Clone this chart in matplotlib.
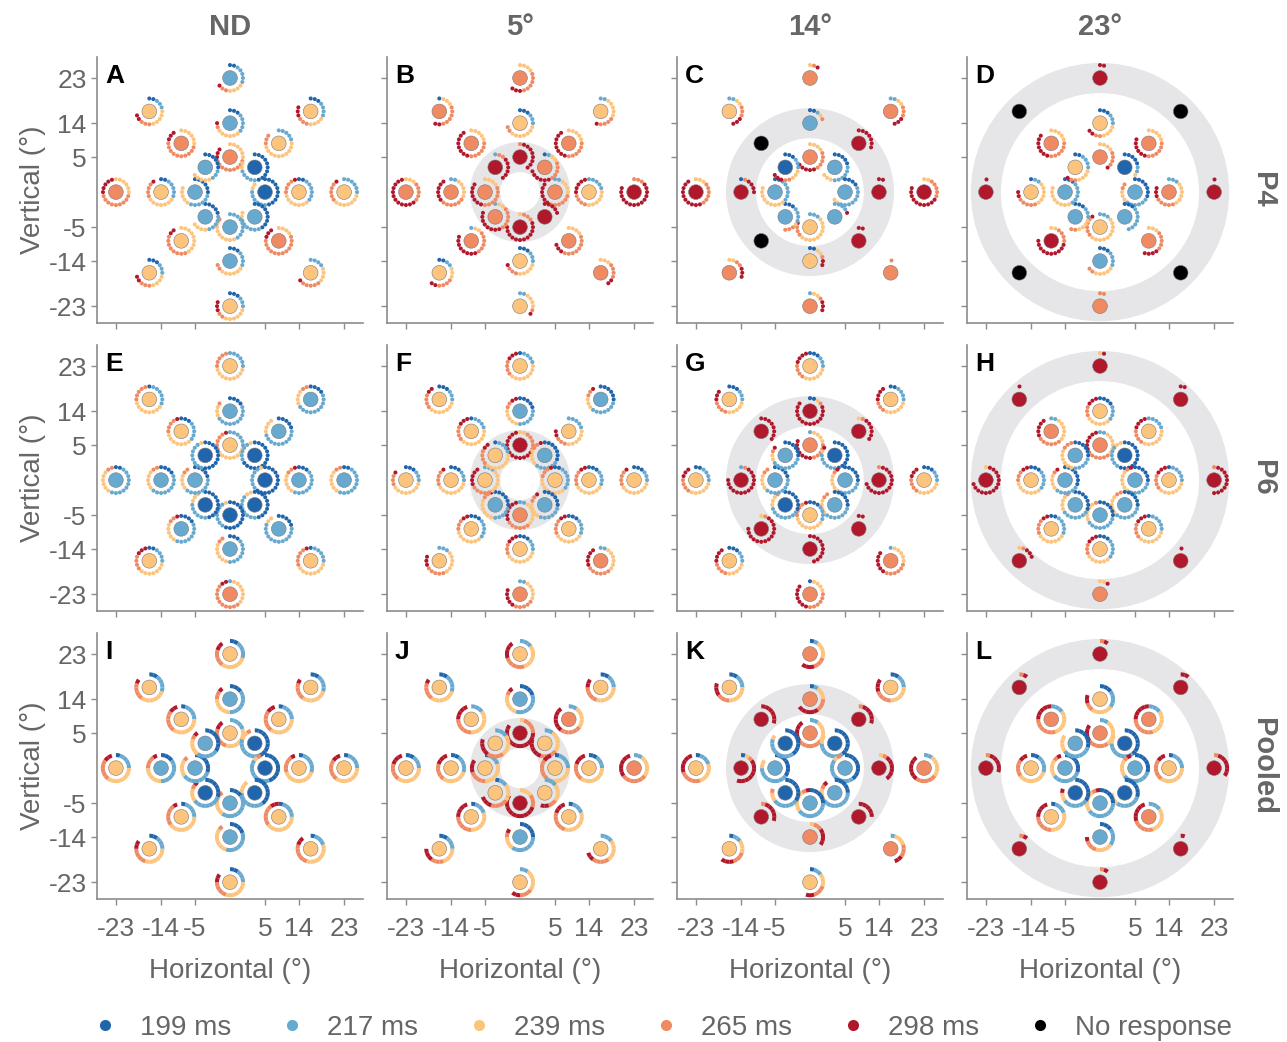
import numpy as np
import matplotlib.pyplot as plt
from matplotlib.patches import Wedge
from matplotlib.lines import Line2D

plt.rcParams['font.family'] = ['Liberation Sans', 'DejaVu Sans']

# latency categories (index 5 = no response)
latency_labels = ['199 ms', '217 ms', '239 ms', '265 ms', '298 ms', 'No response']
colors = ['#2166ac', '#67a9cf', '#fdc47d', '#ef8a62', '#b2182b', '#000000']

ecc_values = [5, 14, 23]
col_titles = ['ND', '5°', '14°', '23°']
row_titles = ['P4', 'P6', 'Pooled']
letters = 'ABCDEFGHIJKL'
# stimulated ring per column (None = no distractor)
annulus_ring = [None, 0, 1, 2]

# each panel: 24 locations, ring 5 / 14 / 23 deg, angles N, NE, E, SE, S, SW, W, NW
# center = latency category of the disc, counts = trials per category (clockwise from top)
A_center = [3, 0, 0, 1, 1, 1, 1, 1,  1, 2, 2, 3, 1, 2, 2, 3,  1, 2, 2, 2, 2, 2, 3, 2]
A_counts = [[0, 0, 6, 9, 3], [10, 5, 2, 0, 0], [10, 6, 2, 0, 0], [9, 6, 2, 0, 0],
            [0, 9, 8, 1, 0], [5, 5, 4, 0, 0], [6, 6, 5, 0, 0], [6, 3, 5, 0, 0],
            [3, 5, 6, 1, 1], [0, 5, 10, 3, 0], [2, 6, 7, 4, 1], [0, 0, 4, 12, 3],
            [3, 4, 6, 2, 0], [0, 0, 9, 8, 2], [2, 5, 7, 4, 1], [0, 0, 6, 10, 3],
            [2, 5, 4, 2, 1], [3, 4, 4, 3, 3], [0, 6, 7, 5, 1], [0, 4, 4, 5, 1],
            [3, 3, 6, 2, 3], [3, 3, 4, 3, 2], [0, 0, 6, 9, 5], [2, 3, 5, 3, 2]]

B_center = [4, 3, 3, 4, 4, 3, 3, 4,  2, 3, 2, 3, 2, 3, 3, 3,  3, 2, 4, 3, 2, 2, 3, 3]
B_counts = [[0, 0, 0, 1, 8], [1, 1, 2, 5, 6], [0, 2, 4, 6, 6], [0, 0, 0, 0, 5],
            [0, 0, 1, 3, 12], [0, 1, 2, 6, 8], [0, 0, 4, 7, 7], [0, 1, 0, 2, 6],
            [3, 3, 7, 2, 0], [0, 0, 5, 6, 8], [0, 5, 6, 4, 5], [0, 0, 4, 8, 3],
            [3, 3, 5, 3, 1], [0, 1, 2, 6, 8], [0, 2, 5, 6, 6], [0, 0, 5, 6, 8],
            [0, 0, 4, 6, 3], [0, 2, 5, 4, 1], [0, 0, 0, 3, 14], [0, 0, 3, 4, 2],
            [0, 2, 4, 1, 1], [2, 2, 3, 4, 2], [0, 0, 3, 5, 12], [1, 0, 3, 6, 2]]

C_center = [3, 1, 1, 1, 2, 1, 1, 0,  1, 4, 4, 4, 2, 5, 4, 5,  3, 3, 4, 3, 3, 3, 4, 2]
C_counts = [[0, 0, 4, 5, 5], [5, 6, 3, 0, 0], [4, 8, 2, 0, 0], [0, 4, 0, 0, 1],
            [0, 3, 10, 3, 1], [3, 4, 1, 3, 0], [2, 6, 9, 0, 0], [3, 3, 3, 2, 3],
            [2, 1, 1, 1, 0], [0, 0, 0, 0, 7], [0, 0, 0, 0, 2], [0, 0, 0, 0, 2],
            [2, 0, 2, 1, 2], [0, 0, 0, 0, 0], [1, 0, 0, 1, 4], [0, 0, 0, 0, 0],
            [0, 0, 1, 1, 1], [0, 2, 2, 3, 3], [0, 0, 2, 5, 10], [0, 0, 0, 1, 0],
            [0, 1, 2, 1, 3], [0, 0, 2, 2, 3], [0, 0, 3, 6, 10], [0, 2, 2, 3, 3]]

D_center = [3, 0, 1, 1, 2, 1, 1, 2,  2, 3, 3, 3, 1, 4, 2, 3,  4, 5, 4, 5, 3, 5, 4, 5]
D_counts = [[0, 0, 4, 4, 1], [5, 2, 1, 0, 0], [7, 6, 3, 2, 0], [3, 7, 0, 0, 0],
            [0, 3, 10, 5, 1], [3, 3, 4, 2, 0], [3, 6, 8, 0, 0], [2, 4, 4, 2, 1],
            [3, 3, 4, 2, 2], [0, 0, 5, 6, 6], [0, 3, 6, 5, 3], [0, 0, 3, 5, 4],
            [3, 4, 5, 2, 0], [0, 0, 2, 4, 10], [1, 2, 6, 5, 2], [0, 0, 5, 6, 7],
            [0, 0, 0, 0, 2], [0, 0, 0, 0, 0], [0, 0, 0, 0, 1], [0, 0, 0, 0, 0],
            [0, 0, 0, 2, 0], [0, 0, 0, 0, 0], [0, 0, 0, 0, 1], [0, 0, 0, 0, 0]]

E_center = [2, 0, 0, 0, 0, 0, 1, 0,  1, 1, 1, 1, 1, 1, 1, 2,  2, 1, 1, 2, 3, 2, 1, 2]
E_counts = [[0, 6, 8, 5, 1], [14, 5, 1, 0, 0], [13, 6, 1, 0, 0], [10, 8, 2, 0, 0],
            [12, 7, 1, 0, 0], [10, 6, 3, 0, 0], [5, 8, 4, 2, 0], [11, 8, 1, 0, 0],
            [4, 10, 3, 1, 0], [5, 10, 4, 0, 0], [3, 9, 5, 2, 1], [5, 12, 2, 0, 0],
            [3, 8, 6, 2, 0], [4, 8, 5, 2, 1], [4, 9, 5, 2, 0], [3, 5, 7, 4, 1],
            [0, 6, 9, 5, 0], [4, 10, 4, 2, 0], [2, 10, 6, 2, 0], [1, 5, 8, 5, 1],
            [0, 1, 7, 10, 2], [2, 4, 7, 4, 3], [2, 10, 6, 2, 0], [1, 6, 8, 5, 0]]

F_center = [4, 1, 2, 1, 3, 1, 2, 2,  1, 2, 2, 2, 2, 2, 2, 2,  2, 1, 2, 3, 3, 2, 2, 2]
F_counts = [[0, 0, 2, 5, 13], [7, 6, 4, 2, 1], [2, 6, 8, 3, 1], [6, 6, 4, 2, 1],
            [0, 2, 6, 6, 6], [6, 5, 6, 2, 1], [0, 3, 6, 5, 5], [1, 4, 8, 4, 2],
            [5, 6, 5, 2, 2], [0, 5, 6, 3, 2], [3, 4, 7, 4, 2], [3, 4, 7, 4, 2],
            [3, 3, 8, 3, 3], [3, 5, 7, 3, 2], [3, 3, 8, 4, 1], [1, 4, 8, 4, 3],
            [1, 4, 8, 4, 3], [6, 7, 3, 2, 1], [3, 3, 8, 4, 1], [0, 2, 6, 6, 5],
            [0, 2, 5, 5, 5], [0, 3, 6, 5, 3], [3, 3, 8, 3, 1], [3, 3, 7, 4, 2]]

G_center = [3, 0, 1, 1, 2, 0, 1, 1,  4, 4, 4, 4, 4, 4, 4, 4,  2, 2, 2, 3, 3, 2, 2, 2]
G_counts = [[0, 1, 4, 5, 7], [10, 6, 1, 0, 1], [6, 6, 5, 1, 1], [6, 7, 4, 2, 0],
            [3, 4, 8, 4, 1], [7, 8, 3, 1, 0], [5, 8, 4, 2, 0], [6, 8, 2, 1, 1],
            [2, 0, 1, 1, 14], [0, 0, 1, 1, 6], [0, 0, 0, 1, 14], [0, 0, 0, 0, 2],
            [0, 0, 0, 0, 10], [0, 0, 1, 1, 14], [0, 1, 0, 1, 14], [0, 0, 0, 0, 8],
            [3, 3, 6, 4, 4], [2, 4, 6, 3, 4], [3, 3, 6, 4, 3], [0, 1, 5, 6, 6],
            [1, 0, 4, 6, 7], [3, 3, 5, 4, 4], [2, 4, 6, 4, 3], [3, 3, 5, 4, 3]]

H_center = [3, 0, 1, 1, 1, 1, 1, 1,  2, 2, 2, 2, 2, 2, 2, 3,  4, 4, 4, 4, 3, 4, 4, 4]
H_counts = [[0, 2, 6, 6, 6], [12, 6, 2, 0, 0], [6, 6, 6, 1, 1], [6, 7, 5, 2, 0],
            [6, 8, 5, 1, 0], [7, 7, 4, 1, 0], [7, 6, 4, 1, 1], [6, 5, 6, 3, 0],
            [4, 4, 6, 3, 3], [0, 5, 7, 4, 4], [1, 5, 7, 4, 3], [1, 5, 7, 4, 3],
            [3, 5, 6, 3, 3], [2, 5, 7, 4, 2], [3, 5, 7, 3, 2], [0, 2, 6, 6, 5],
            [0, 0, 1, 0, 1], [0, 0, 0, 0, 2], [0, 0, 0, 1, 10], [0, 0, 0, 0, 1],
            [0, 0, 2, 0, 1], [0, 0, 1, 1, 3], [0, 0, 1, 0, 14], [0, 0, 0, 0, 1]]

I_center = [2, 0, 0, 0, 1, 0, 1, 1,  1, 2, 2, 2, 1, 2, 1, 2,  2, 2, 2, 2, 2, 2, 2, 2]
I_counts = [[0, 4, 7, 5, 2], [9, 7, 2, 1, 0], [9, 8, 1, 1, 0], [8, 7, 3, 0, 0],
            [3, 9, 5, 1, 0], [6, 7, 3, 1, 1], [6, 7, 4, 1, 0], [7, 5, 4, 1, 1],
            [3, 7, 5, 2, 1], [1, 4, 7, 5, 2], [1, 5, 8, 4, 1], [1, 4, 8, 5, 2],
            [4, 7, 6, 1, 0], [1, 4, 8, 5, 1], [3, 7, 5, 3, 1], [1, 4, 7, 5, 2],
            [2, 4, 6, 4, 2], [2, 4, 6, 4, 1], [1, 4, 7, 5, 2], [1, 3, 7, 5, 2],
            [2, 3, 6, 4, 2], [2, 3, 6, 4, 2], [1, 4, 7, 5, 2], [2, 4, 6, 4, 1]]

J_center = [4, 2, 2, 2, 4, 2, 2, 2,  1, 3, 2, 2, 1, 2, 2, 2,  2, 2, 3, 2, 2, 2, 2, 2]
J_counts = [[0, 0, 1, 4, 12], [0, 2, 5, 4, 5], [1, 4, 7, 5, 2], [0, 3, 4, 2, 2],
            [0, 0, 3, 3, 11], [1, 2, 4, 4, 3], [1, 3, 6, 4, 3], [0, 3, 5, 4, 4],
            [4, 7, 5, 1, 1], [0, 2, 5, 5, 6], [2, 3, 7, 4, 3], [1, 3, 7, 5, 3],
            [5, 7, 3, 1, 1], [1, 3, 6, 5, 4], [2, 4, 6, 4, 3], [0, 3, 7, 5, 4],
            [0, 3, 6, 5, 4], [2, 3, 6, 4, 2], [0, 2, 5, 6, 6], [0, 3, 5, 4, 2],
            [0, 2, 5, 3, 2], [2, 3, 4, 3, 3], [2, 3, 7, 4, 3], [2, 4, 6, 4, 1]]

K_center = [3, 0, 1, 1, 1, 0, 1, 0,  3, 4, 4, 4, 3, 4, 4, 4,  3, 2, 3, 3, 2, 2, 2, 2]
K_counts = [[0, 2, 5, 6, 5], [8, 7, 2, 0, 0], [8, 9, 1, 1, 0], [5, 8, 3, 1, 1],
            [5, 8, 5, 1, 1], [7, 6, 2, 1, 0], [7, 8, 2, 0, 0], [8, 8, 1, 0, 0],
            [1, 1, 3, 3, 5], [0, 0, 0, 1, 5], [0, 0, 1, 1, 6], [0, 0, 0, 0, 5],
            [0, 0, 1, 2, 4], [0, 0, 0, 1, 5], [1, 0, 1, 1, 8], [0, 0, 0, 0, 6],
            [1, 1, 4, 3, 3], [2, 3, 5, 4, 3], [0, 2, 5, 5, 6], [0, 1, 3, 3, 2],
            [1, 2, 3, 3, 2], [1, 2, 3, 3, 3], [1, 3, 5, 5, 5], [2, 3, 5, 3, 3]]

L_center = [3, 0, 1, 0, 1, 0, 1, 1,  2, 3, 2, 3, 1, 2, 2, 3,  4, 4, 4, 4, 4, 4, 4, 4]
L_counts = [[0, 2, 6, 5, 4], [8, 7, 2, 0, 0], [6, 7, 4, 1, 1], [6, 6, 3, 0, 0],
            [5, 8, 5, 1, 1], [7, 6, 2, 0, 1], [6, 7, 4, 1, 1], [6, 7, 4, 0, 0],
            [3, 4, 5, 2, 2], [0, 3, 6, 6, 5], [1, 4, 7, 5, 2], [0, 3, 6, 5, 5],
            [3, 4, 4, 3, 1], [1, 3, 6, 5, 4], [2, 4, 7, 4, 2], [0, 3, 6, 6, 5],
            [0, 0, 0, 1, 1], [0, 0, 0, 0, 2], [0, 0, 0, 1, 6], [0, 0, 0, 0, 1],
            [0, 0, 0, 1, 1], [0, 0, 0, 1, 1], [0, 0, 0, 1, 5], [0, 0, 0, 1, 1]]

panel_centers = [A_center, B_center, C_center, D_center, E_center, F_center,
                 G_center, H_center, I_center, J_center, K_center, L_center]
panel_counts = [A_counts, B_counts, C_counts, D_counts, E_counts, F_counts,
                G_counts, H_counts, I_counts, J_counts, K_counts, L_counts]

# ---- layout ----
W, H = 1287, 1042
fig = plt.figure(figsize=(W / 100, H / 100), dpi=100)

ring_pos = [1.0, 1.97, 3.26]     # display radius of the 5/14/23 deg rings
step = 18                        # degrees per trial
dot_r = 0.37
arc_r, arc_w = 0.43, 0.115
gray_txt = '#666666'
spine_c = '#8c8c8c'

ax_left = [97, 387, 677, 967]
ax_top = [57, 345, 633]
ax_size = 266

ticks = [-ring_pos[2], -ring_pos[1], -ring_pos[0], ring_pos[0], ring_pos[1], ring_pos[2]]
tick_labels = ['-23', '-14', '-5', '5', '14', '23']

for p in range(12):
    r, c = divmod(p, 4)
    ax = fig.add_axes([ax_left[c] / W, 1 - (ax_top[r] + ax_size) / H, ax_size / W, ax_size / H])
    ax.set_xlim(-3.8, 3.8)
    ax.set_ylim(-3.74, 3.86)

    ring = annulus_ring[c]
    if ring is not None:
        rr = ring_pos[ring]
        ax.add_patch(Wedge((0, 0), rr + 0.43, 0, 360, width=0.86,
                           facecolor='#e6e5e8', edgecolor='none', zorder=0))

    centers = panel_centers[p]
    counts = panel_counts[p]
    xs, ys = [], []
    for k in range(24):
        ring_i, ang_i = divmod(k, 8)
        th = np.deg2rad(ang_i * 45)
        x = ring_pos[ring_i] * np.sin(th)
        y = ring_pos[ring_i] * np.cos(th)
        xs.append(x)
        ys.append(y)
        seq = []
        for cat, n in enumerate(counts[k]):
            seq += [cat] * n
        if r < 2:
            a = np.deg2rad(np.arange(len(seq)) * step)
            ax.scatter(x + dot_r * np.sin(a), y + dot_r * np.cos(a), s=8.5,
                       c=[colors[s] for s in seq], linewidths=0, zorder=2)
        else:
            for i, cat in enumerate(seq):
                a1, a2 = i * step, (i + 1) * step
                ax.add_patch(Wedge((x, y), arc_r, 90 - a2, 90 - a1, width=arc_w,
                                   facecolor=colors[cat], edgecolor='none', zorder=2))
    ax.scatter(xs, ys, s=112, c=[colors[v] for v in centers],
               edgecolors='#7a7a7a', linewidths=0.4, zorder=3)

    for s in ['top', 'right']:
        ax.spines[s].set_visible(False)
    for s in ['left', 'bottom']:
        ax.spines[s].set_color(spine_c)
        ax.spines[s].set_linewidth(1.2)
    ax.set_xticks(ticks)
    ax.set_yticks(ticks)
    ax.tick_params(colors=spine_c, length=4, width=1, labelcolor=gray_txt, labelsize=19)
    ax.tick_params(axis='x', pad=9)
    if c == 0:
        ax.set_yticklabels(tick_labels)
        ax.set_ylabel('Vertical (°)', fontsize=20, color=gray_txt, labelpad=2)
    else:
        ax.set_yticklabels([])
    if r == 2:
        ax.set_xticklabels(tick_labels)
        ax.set_xlabel('Horizontal (°)', fontsize=20, color=gray_txt, labelpad=12)
    else:
        ax.set_xticklabels([])

    ax.text(0.03, 0.975, letters[p], transform=ax.transAxes, fontsize=19,
            fontweight='bold', ha='left', va='top', color='black')

    if r == 0:
        ax.text(0.5, 1.0 + 30 / ax_size, col_titles[c], transform=ax.transAxes,
                fontsize=21, fontweight='bold', color=gray_txt, ha='center', va='center')
    if c == 3:
        ax.text(1.0 + 30 / ax_size, 0.5, row_titles[r], transform=ax.transAxes,
                fontsize=21, fontweight='bold', color=gray_txt, ha='center',
                va='center', rotation=-90)

handles = [Line2D([], [], marker='o', linestyle='none', markersize=8,
                  markerfacecolor=colors[i], markeredgecolor='none')
           for i in range(6)]
fig.legend(handles, latency_labels, loc='center',
           bbox_to_anchor=(0.5 + 18 / W, 1 - 1028 / H),
           ncol=6, frameon=False, fontsize=20, handlelength=1.0, handletextpad=0.75,
           columnspacing=1.7, labelcolor=gray_txt)

fig.savefig('out.png', dpi=100)
